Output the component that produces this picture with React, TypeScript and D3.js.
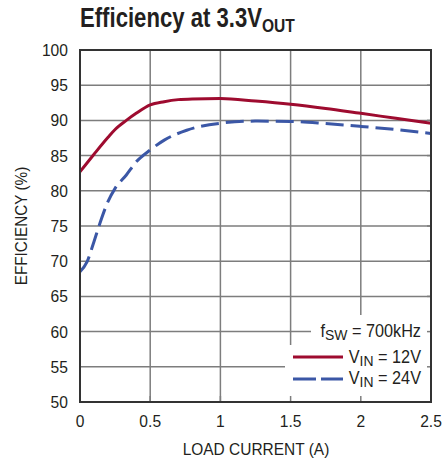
import React from "react";
import * as d3 from "d3";

const load12 = [0, 0.1, 0.2, 0.25, 0.33, 0.4, 0.5, 0.6, 0.7, 0.8, 1.0, 1.25, 1.5, 1.75, 2.0, 2.25, 2.5];
const eff12 = [82.7, 85.2, 87.6, 88.7, 90.0, 91.0, 92.2, 92.66, 92.95, 93.05, 93.1, 92.75, 92.3, 91.7, 91.0, 90.3, 89.6];

const load24 = [0, 0.05, 0.1, 0.142, 0.2, 0.25, 0.33, 0.4, 0.5, 0.6, 0.76, 1.0, 1.25, 1.5, 1.75, 2.0, 2.25, 2.5];
const eff24 = [68.5, 69.9, 72.8, 75.4, 78.5, 80.35, 82.25, 84.1, 85.8, 87.2, 88.6, 89.6, 89.9, 89.85, 89.55, 89.15, 88.7, 88.15];

const xTicks = [0, 0.5, 1, 1.5, 2, 2.5];
const xTickLabels = ["0", "0.5", "1", "1.5", "2", "2.5"];
const yTicks = [50, 55, 60, 65, 70, 75, 80, 85, 90, 95, 100];

const FONT = "'Liberation Sans', Arial, Helvetica, sans-serif";
const TXT = "#231f20";
const SX = 0.9;

function T(props: {
  x: number;
  y: number;
  sx?: number;
  rot?: number;
  size: number;
  anchor?: string;
  bold?: boolean;
  children: React.ReactNode;
}) {
  const { x, y, sx = SX, rot = 0, size, anchor = "start", bold = false, children } = props;
  return (
    <text
      transform={`translate(${x},${y})${rot ? ` rotate(${rot})` : ""} scale(${sx},1)`}
      fontSize={size}
      fontWeight={bold ? "bold" : "normal"}
      textAnchor={anchor}
      fill={TXT}
    >
      {children}
    </text>
  );
}

export default function App() {
  const W = 442, H = 464;
  const left = 80, right = 431, top = 50, bottom = 402;
  const x = d3.scaleLinear().domain([0, 2.5]).range([left, right]);
  const y = d3.scaleLinear().domain([50, 100]).range([bottom, top]);

  const line = d3
    .line<[number, number]>()
    .x((d) => x(d[0]))
    .y((d) => y(d[1]))
    .curve(d3.curveMonotoneX);

  const d12 = line(load12.map((v, i) => [v, eff12[i]]) as [number, number][]) || "";
  const d24 = line(load24.map((v, i) => [v, eff24[i]]) as [number, number][]) || "";

  const grid = "#7d7d7d";

  return (
    <svg
      width={W}
      height={H}
      style={{ position: "absolute", left: 0, top: 0, background: "#fff" }}
      fontFamily={FONT}
    >
      <rect x={0} y={0} width={W} height={H} fill="#fff" />
      {/* title */}
      <T x={80} y={27} size={27} bold sx={0.82}>
        Efficiency at 3.3V
        <tspan fontSize={19} dy={5}>OUT</tspan>
      </T>

      {/* grid */}
      {xTicks.slice(1, -1).map((t) => (
        <line key={"gx" + t} x1={x(t)} x2={x(t)} y1={top} y2={bottom} stroke={grid} strokeWidth={1.5} />
      ))}
      {yTicks.slice(1, -1).map((t) => (
        <line key={"gy" + t} x1={left} x2={right} y1={y(t)} y2={y(t)} stroke={grid} strokeWidth={1.5} />
      ))}

      {/* curves */}
      <path d={d12} fill="none" stroke="#9e0b2f" strokeWidth={3} />
      <path d={d24} fill="none" stroke="#3b57a6" strokeWidth={3} strokeDasharray="18,7" />

      {/* legend background */}
      <rect x={311} y={315} width={right - 311} height={30} fill="#fff" />
      <rect x={285} y={345} width={right - 285} height={bottom - 345} fill="#fff" />

      {/* inward ticks */}
      {xTicks.slice(1, -1).map((t) => (
        <line key={"tx" + t} x1={x(t)} x2={x(t)} y1={bottom} y2={bottom - 6} stroke={grid} strokeWidth={1.5} />
      ))}
      {yTicks.slice(1, -1).map((t) => (
        <line key={"ty" + t} x1={right} x2={right - 4} y1={y(t)} y2={y(t)} stroke={grid} strokeWidth={1.5} />
      ))}

      {/* legend */}
      <T x={421} y={337} size={17.5} anchor="end" sx={0.93}>
        f<tspan fontSize={15} dy={3}>SW</tspan>
        <tspan dy={-3}> = 700kHz</tspan>
      </T>
      <line x1={293} x2={343} y1={357} y2={357} stroke="#9e0b2f" strokeWidth={3} />
      <T x={421} y={363} size={17.5} anchor="end" sx={0.93}>
        V<tspan fontSize={15} dy={3}>IN</tspan>
        <tspan dy={-3}> = 12V</tspan>
      </T>
      <line x1={293} x2={343} y1={379} y2={379} stroke="#3b57a6" strokeWidth={3} strokeDasharray="23,5" />
      <T x={421} y={384} size={17.5} anchor="end" sx={0.93}>
        V<tspan fontSize={15} dy={3}>IN</tspan>
        <tspan dy={-3}> = 24V</tspan>
      </T>

      {/* frame */}
      <rect x={left} y={top} width={right - left} height={bottom - top} fill="none" stroke="#333" strokeWidth={2} />

      {/* y tick labels */}
      {yTicks.map((t) => (
        <T key={"yl" + t} x={68} y={y(t) + 6} size={17} anchor="end" sx={0.92}>
          {t}
        </T>
      ))}
      {/* x tick labels */}
      {xTicks.map((t, i) => (
        <T key={"xl" + t} x={x(t)} y={427} size={17} anchor="middle" sx={0.92}>
          {xTickLabels[i]}
        </T>
      ))}

      {/* axis titles */}
      <T x={256} y={455} size={17} anchor="middle" sx={0.91}>
        LOAD CURRENT (A)
      </T>
      <T x={27} y={(top + bottom) / 2} rot={-90} size={17} anchor="middle">
        EFFICIENCY (%)
      </T>
    </svg>
  );
}
